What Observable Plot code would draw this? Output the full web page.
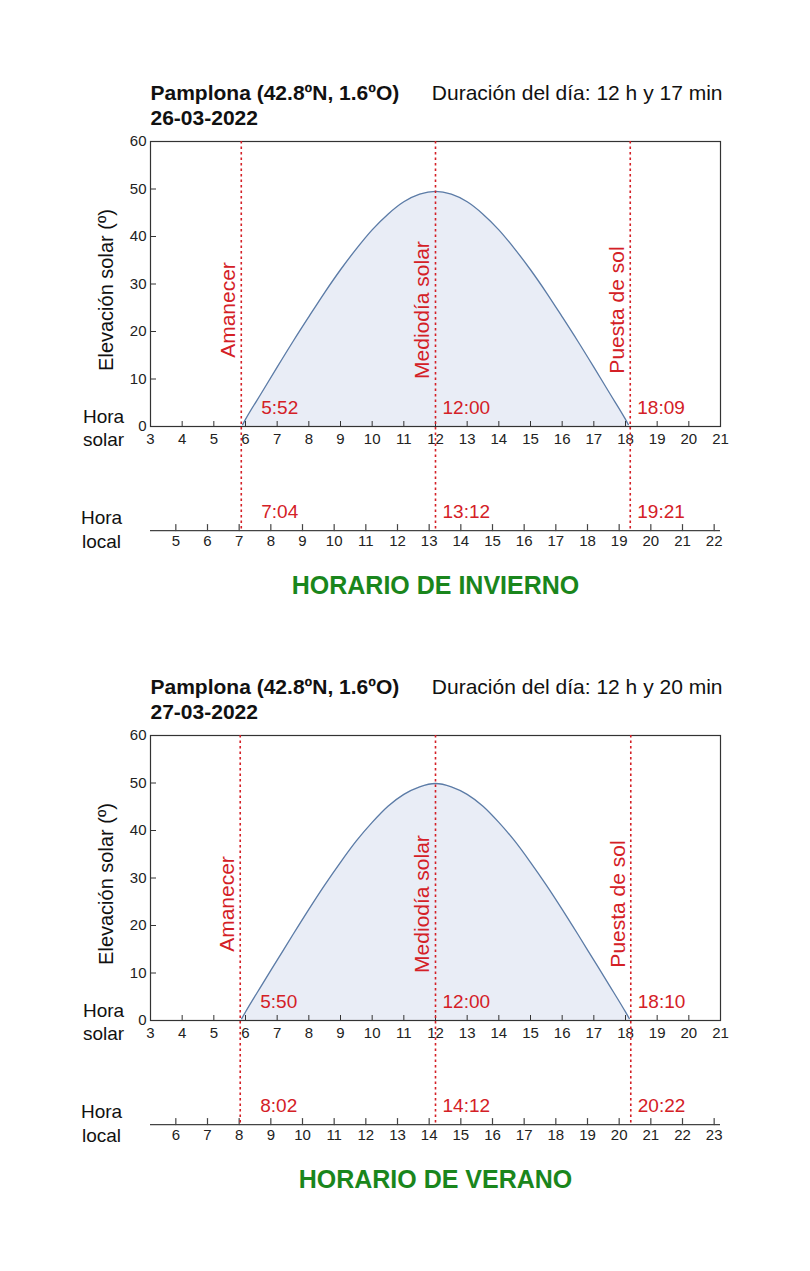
<!DOCTYPE html>
<html><head><meta charset="utf-8">
<script src="https://cdn.jsdelivr.net/npm/d3@7"></script>
<script src="https://cdn.jsdelivr.net/npm/@observablehq/plot@0.6"></script>
<style>
body{margin:0;background:#fff;}
#chart{width:810px;}
#chart svg{display:block;}
</style>
</head><body><div id="chart"></div>
<script>
// ---- data ----
const place = "Pamplona (42.8ºN, 1.6ºO)";
const dates = ["26-03-2022", "27-03-2022"];
const dayLengths = ["Duración del día: 12 h y 17 min", "Duración del día: 12 h y 20 min"];
const regimes = ["HORARIO DE INVIERNO", "HORARIO DE VERANO"];
const eventNames = ["Amanecer", "Mediodía solar", "Puesta de sol"];
const solarTimesWinter = ["5:52", "12:00", "18:09"];
const localTimesWinter = ["7:04", "13:12", "19:21"];
const solarTimesSummer = ["5:50", "12:00", "18:10"];
const localTimesSummer = ["8:02", "14:12", "20:22"];
const yTicks = [0, 10, 20, 30, 40, 50, 60];
const solarHourTicks = [3, 4, 5, 6, 7, 8, 9, 10, 11, 12, 13, 14, 15, 16, 17, 18, 19, 20, 21];
const localHourTicksWinter = [5, 6, 7, 8, 9, 10, 11, 12, 13, 14, 15, 16, 17, 18, 19, 20, 21, 22];
const localHourTicksSummer = [6, 7, 8, 9, 10, 11, 12, 13, 14, 15, 16, 17, 18, 19, 20, 21, 22, 23];
const hoursWinter = [5.91, 6, 6.5, 7, 7.5, 8, 8.5, 9, 9.5, 10, 10.5, 11, 11.5, 12, 12.5, 13, 13.5, 14, 14.5, 15, 15.5, 16, 16.5, 17, 17.5, 18, 18.09];
const elevWinter = [0.4, 1.5, 7.0, 12.5, 17.9, 23.1, 28.2, 33.0, 37.4, 41.4, 44.7, 47.3, 48.9, 49.5, 48.9, 47.3, 44.7, 41.4, 37.4, 33.0, 28.2, 23.1, 17.9, 12.5, 7.0, 1.5, 0.4];
const hoursSummer = [5.88, 6, 6.5, 7, 7.5, 8, 8.5, 9, 9.5, 10, 10.5, 11, 11.5, 12, 12.5, 13, 13.5, 14, 14.5, 15, 15.5, 16, 16.5, 17, 17.5, 18, 18.12];
const elevSummer = [0.4, 1.8, 7.3, 12.7, 18.1, 23.4, 28.5, 33.3, 37.8, 41.7, 45.1, 47.6, 49.2, 49.9, 49.2, 47.6, 45.1, 41.7, 37.8, 33.3, 28.5, 23.4, 18.1, 12.7, 7.3, 1.8, 0.4];

// ---- layout / style ----
const FONT = "'Liberation Sans', Arial, Helvetica, sans-serif";
const RED = "#d42026";
const GREEN = "#1a861c";
const LOCAL_AXIS_Y = -21.9; // local-time axis sits below the frame, in elevation units
const toH = s => { const [h, m] = s.split(":").map(Number); return h + m / 60; };

function panel(i) {
  const solarT = i === 0 ? solarTimesWinter : solarTimesSummer;
  const localT = i === 0 ? localTimesWinter : localTimesSummer;
  const localTicks = i === 0 ? localHourTicksWinter : localHourTicksSummer;
  const hours = i === 0 ? hoursWinter : hoursSummer;
  const elev = i === 0 ? elevWinter : elevSummer;
  const curve = hours.map((h, k) => ({h, e: elev[k]}));
  const events = eventNames.map((name, k) => ({name, solar: toH(solarT[k]), solarLabel: solarT[k], localLabel: localT[k]}));
  const offset = toH(localT[1]) - toH(solarT[1]);
  const tickShape = {draw(ctx, l) { ctx.moveTo(0, 0); ctx.lineTo(0, -l); }};

  return Plot.plot({
    width: 810, height: 594,
    marginLeft: 150, marginRight: 90, marginTop: 141, marginBottom: 168,
    x: {domain: [3, 21]},
    y: {domain: [0, 60]},
    style: {fontFamily: FONT, fontSize: "15px", color: "#222", background: "white", overflow: "visible"},
    marks: [
      Plot.areaY(curve, {x: "h", y: "e", fill: "#e9edf6", curve: "monotone-x"}),
      Plot.line(curve, {x: "h", y: "e", stroke: "#5b7ba6", strokeWidth: 1.3, curve: "monotone-x"}),
      Plot.frame({stroke: "#333", strokeWidth: 1.2}),
      Plot.axisY(yTicks, {tickSize: -6, tickPadding: 10, label: null, fontSize: 15, stroke: "#333"}),
      Plot.axisX(solarHourTicks, {tickSize: -5, tickPadding: 12, label: null, fontSize: 15, stroke: "#333"}),
      // local time axis
      Plot.ruleY([LOCAL_AXIS_Y], {stroke: "#444", strokeWidth: 1.3}),
      Plot.vector(localTicks, {x: d => d - offset, y: LOCAL_AXIS_Y, length: 6, rotate: 0, anchor: "start", shape: tickShape, stroke: "#444", strokeWidth: 1.2}),
      Plot.text(localTicks, {x: d => d - offset, y: LOCAL_AXIS_Y, text: d => String(d), lineAnchor: "top", dy: 5, fontSize: 15, fill: "#222"}),
      // event lines
      Plot.ruleX(events, {x: "solar", y1: 60, y2: LOCAL_AXIS_Y, stroke: RED, strokeWidth: 1.6, strokeDasharray: "2.5,3"}),
      Plot.text(events, {x: "solar", text: "name", rotate: -90, frameAnchor: "middle", dx: -13, dy: 26, textAnchor: "middle", lineAnchor: "middle", fontSize: 21, fill: RED}),
      Plot.text(events.slice(0, 1), {x: "solar", text: "solarLabel", frameAnchor: "bottom", lineAnchor: "bottom", textAnchor: "start", dx: 20, dy: -13, fontSize: 19, fill: RED}),
      Plot.text(events.slice(1), {x: "solar", text: "solarLabel", frameAnchor: "bottom", lineAnchor: "bottom", textAnchor: "start", dx: 7, dy: -13, fontSize: 19, fill: RED}),
      Plot.text(events.slice(0, 1), {x: "solar", y: LOCAL_AXIS_Y, text: "localLabel", lineAnchor: "bottom", textAnchor: "start", dx: 20, dy: -13, fontSize: 19, fill: RED}),
      Plot.text(events.slice(1), {x: "solar", y: LOCAL_AXIS_Y, text: "localLabel", lineAnchor: "bottom", textAnchor: "start", dx: 7, dy: -13, fontSize: 19, fill: RED}),
      // axis titles
      Plot.text(["Elevación solar (º)"], {text: d => d, frameAnchor: "left", rotate: -90, dx: -44, dy: 6, textAnchor: "middle", lineAnchor: "middle", fontSize: 20, fill: "#111"}),
      Plot.text(["Hora\nsolar"], {text: d => d, frameAnchor: "bottom-left", dx: -47, dy: 19, textAnchor: "middle", lineAnchor: "bottom", lineHeight: 1.16, fontSize: 19, fill: "#111"}),
      Plot.text(["Hora\nlocal"], {text: d => d, x: 3, y: LOCAL_AXIS_Y, dx: -49, dy: 17, textAnchor: "middle", lineAnchor: "bottom", lineHeight: 1.26, fontSize: 19, fill: "#111"}),
      // titles
      Plot.text([place], {text: d => d, frameAnchor: "top-left", dy: -42, textAnchor: "start", lineAnchor: "bottom", fontSize: 21, fontWeight: "bold", fill: "#111"}),
      Plot.text([dates[i]], {text: d => d, frameAnchor: "top-left", dy: -17, textAnchor: "start", lineAnchor: "bottom", fontSize: 21, fontWeight: "bold", fill: "#111"}),
      Plot.text([dayLengths[i]], {text: d => d, frameAnchor: "top-right", dx: 2, dy: -42, textAnchor: "end", lineAnchor: "bottom", fontSize: 21, fill: "#111"}),
      Plot.text([regimes[i]], {text: d => d, frameAnchor: "bottom", dy: 167, textAnchor: "middle", lineAnchor: "bottom", fontSize: 25, fontWeight: "bold", fill: GREEN})
    ]
  });
}

const chart = document.getElementById("chart");
chart.append(panel(0));
chart.append(panel(1));
</script>
</body></html>
